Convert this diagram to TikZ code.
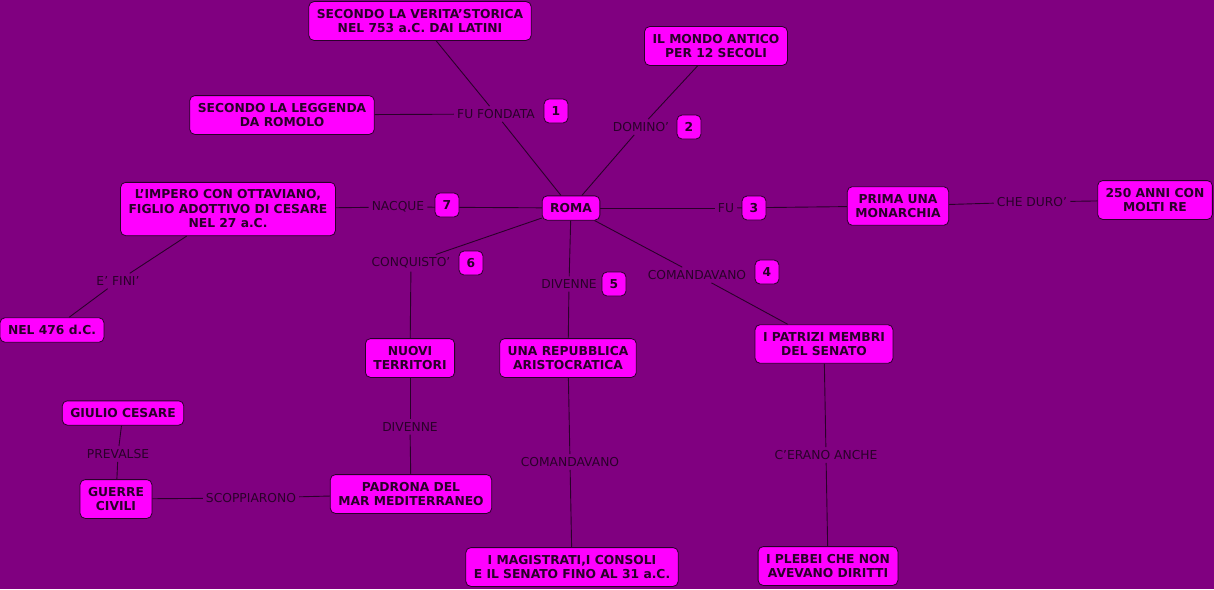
\documentclass[tikz,border=0pt]{standalone}
\usepackage{fontspec}
\setmainfont{DejaVu Sans}
\definecolor{bg}{HTML}{800080}
\definecolor{boxfill}{HTML}{FF00FF}
\definecolor{ink}{HTML}{2A002A}
\tikzset{
  concept/.style={draw=ink, fill=boxfill, rounded corners=5pt, line width=0.8pt,
    align=center, inner xsep=8pt, inner ysep=7.5pt, text=ink,
    font=\fontsize{12.3}{14.5}\selectfont\bfseries},
  badge/.style={draw=ink, fill=boxfill, rounded corners=5pt, line width=0.8pt,
    minimum width=24pt, minimum height=24pt, inner sep=0pt, text=ink,
    font=\fontsize{12.3}{14.5}\selectfont\bfseries},
  link/.style={inner sep=3pt, text=ink, font=\fontsize{12.3}{14}\selectfont},
  conn/.style={draw=ink, line width=0.9pt}
}
\begin{document}
\begin{tikzpicture}[x=1pt,y=-1pt]
\fill[bg] (0,0) rectangle (1214,589);
\useasboundingbox (0,0) rectangle (1214,589);
% concepts
\node[concept] (roma) at (571,208) {ROMA};
\node[concept] (verita) at (420,21) {SECONDO LA VERITA'STORICA\\NEL 753 a.C. DAI LATINI};
\node[concept] (mondo) at (716,46) {IL MONDO ANTICO\\PER 12 SECOLI};
\node[concept] (leggenda) at (282,115) {SECONDO LA LEGGENDA\\DA ROMOLO};
\node[concept] (impero) at (228,209) {L'IMPERO CON OTTAVIANO,\\FIGLIO ADOTTIVO DI CESARE\\NEL 27 a.C.};
\node[concept] (prima) at (898,206) {PRIMA UNA\\MONARCHIA};
\node[concept] (anni) at (1155,200) {250 ANNI CON\\MOLTI RE};
\node[concept] (nel476) at (52,330) {NEL 476 d.C.};
\node[concept] (nuovi) at (410,358) {NUOVI\\TERRITORI};
\node[concept] (repubblica) at (568,358) {UNA REPUBBLICA\\ARISTOCRATICA};
\node[concept] (patrizi) at (824,344) {I PATRIZI MEMBRI\\DEL SENATO};
\node[concept] (giulio) at (123,413) {GIULIO CESARE};
\node[concept] (guerre) at (116,499) {GUERRE\\CIVILI};
\node[concept] (padrona) at (411,494) {PADRONA DEL\\MAR MEDITERRANEO};
\node[concept] (magistrati) at (572,567) {I MAGISTRATI,I CONSOLI\\E IL SENATO FINO AL 31 a.C.};
\node[concept] (plebei) at (828,566) {I PLEBEI CHE NON\\ AVEVANO DIRITTI};
% linking phrases
\node[link] (fufondata) at (496,114) {FU FONDATA};
\node[link] (domino) at (641,127) {DOMINO'};
\node[link] (nacque) at (398,207) {NACQUE};
\node[link] (fu) at (726,208) {FU};
\node[link] (cheduro) at (1032,202) {CHE DURO'};
\node[link] (conquisto) at (411,263) {CONQUISTO'};
\node[link] (divenne) at (569,284) {DIVENNE};
\node[link] (comandavano) at (697,275) {COMANDAVANO};
\node[link] (efini) at (118,281) {E' FINI'};
\node[link] (prevalse) at (118,454) {PREVALSE};
\node[link] (divenneb) at (410,427) {DIVENNE};
\node[link] (scoppiarono) at (251,498) {SCOPPIARONO};
\node[link] (comandavanob) at (570,462) {COMANDAVANO};
\node[link] (cerano) at (826,455) {C'ERANO ANCHE};
% connectors
\draw[conn] (roma) -- (fufondata);
\draw[conn] (fufondata) -- (verita);
\draw[conn] (fufondata) -- (leggenda);
\draw[conn] (roma) -- (domino);
\draw[conn] (domino) -- (mondo);
\draw[conn] (roma) -- (fu);
\draw[conn] (fu) -- (prima);
\draw[conn] (prima) -- (cheduro);
\draw[conn] (cheduro) -- (anni);
\draw[conn] (roma) -- (comandavano);
\draw[conn] (comandavano) -- (patrizi);
\draw[conn] (patrizi) -- (cerano);
\draw[conn] (cerano) -- (plebei);
\draw[conn] (roma) -- (divenne);
\draw[conn] (divenne) -- (repubblica);
\draw[conn] (repubblica) -- (comandavanob);
\draw[conn] (comandavanob) -- (magistrati);
\draw[conn] (roma) -- (conquisto);
\draw[conn] (conquisto) -- (nuovi);
\draw[conn] (nuovi) -- (divenneb);
\draw[conn] (divenneb) -- (padrona);
\draw[conn] (padrona) -- (scoppiarono);
\draw[conn] (scoppiarono) -- (guerre);
\draw[conn] (guerre) -- (prevalse);
\draw[conn] (prevalse) -- (giulio);
\draw[conn] (roma) -- (nacque);
\draw[conn] (nacque) -- (impero);
\draw[conn] (impero) -- (efini);
\draw[conn] (efini) -- (nel476);
% badges
\node[badge] (b1) at (556,111) {1};
\node[badge] (b2) at (689,127) {2};
\node[badge] (b3) at (754,208) {3};
\node[badge] (b4) at (767,272) {4};
\node[badge] (b5) at (614,284) {5};
\node[badge] (b6) at (471,263) {6};
\node[badge] (b7) at (447,205) {7};
\end{tikzpicture}
\end{document}
